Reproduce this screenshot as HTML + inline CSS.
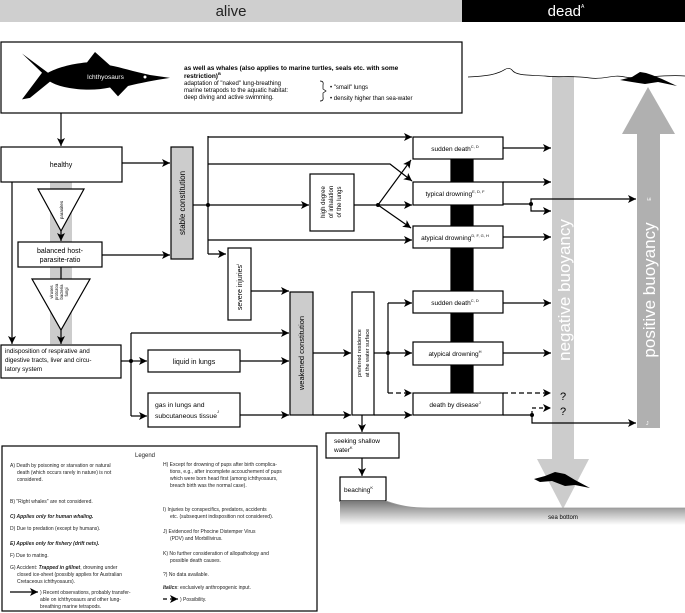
<!DOCTYPE html>
<html><head><meta charset="utf-8"><style>
html,body{margin:0;padding:0;background:#fff}
svg{display:block;font-family:"Liberation Sans",sans-serif}
</style></head><body>
<svg width="685" height="613" viewBox="0 0 685 613" xmlns="http://www.w3.org/2000/svg">
<defs>
<marker id="a" markerUnits="userSpaceOnUse" markerWidth="9" markerHeight="8" refX="8" refY="4" orient="auto"><path d="M0,0 L8,4 L0,8 L2,4 z" fill="#000"/></marker>
<linearGradient id="g" x1="0" y1="0" x2="0" y2="1"><stop offset="0" stop-color="#777"/><stop offset="1" stop-color="#fff"/></linearGradient>
</defs>
<!-- header -->
<rect x="0" y="0" width="462" height="22" fill="#cfcfcf"/>
<rect x="462" y="0" width="223" height="22" fill="#000"/>
<text x="231" y="16" font-size="15" text-anchor="middle" fill="#222">alive</text>
<text x="566" y="16" font-size="15" text-anchor="middle" fill="#fff">dead<tspan font-size="5" dy="-8">A</tspan></text>

<!-- buoyancy arrows -->
<rect x="552" y="76" width="22" height="384" fill="#ccc"/>
<polygon points="537,459 589,459 563,509" fill="#ccc"/>
<text transform="translate(570,290) rotate(-90)" font-size="17" fill="#fff" text-anchor="middle">negative buoyancy</text>
<rect x="637" y="133" width="23" height="295" fill="#b0b0b0"/>
<polygon points="622,134 675,134 648,87" fill="#b0b0b0"/>
<text transform="translate(655,290) rotate(-90)" font-size="17" fill="#fff" text-anchor="middle">positive buoyancy</text>
<text transform="translate(651,199) rotate(-90)" font-size="5" fill="#fff" text-anchor="middle">E</text>
<text x="646" y="425" font-size="5" fill="#fff">J</text>

<!-- water line -->
<path d="M468,77 C490,76 495,74 500,72 C505,70 508,66 512,70 C516,76 530,75 545,76 C560,78 570,75 590,78 C605,80 612,74 625,77 C640,80 660,74 685,76" fill="none" stroke="#000" stroke-width="0.7"/>
<path d="M620,80 L632,77 L640,72 L646,73 L652,75 L662,79 L677,86 L658,82 L645,84 L632,82 Z" fill="#000"/>

<!-- top box -->
<rect x="1" y="42" width="461" height="71" fill="#fff" stroke="#000" stroke-width="1.2"/>
<g transform="translate(0,1.7) scale(1,0.74)">
<path d="M22,70 L42,96 L22,132 L30,130 L50,108 C62,118 90,122 110,116 L118,128 L128,114 C140,110 155,106 170,103 L150,99 C135,95 122,89 110,86 L95,68 L87,82 C70,84 56,90 48,96 Z" fill="#000"/>
</g>
<text x="87" y="79" font-size="6.5" fill="#fff">Ichthyosaurs</text>
<circle cx="145" cy="77" r="1.5" fill="#fff"/>
<text x="184" y="70" font-size="6.5" font-weight="bold">as well as whales (also applies to marine turtles, seals etc. with some</text>
<text x="184" y="78" font-size="6.5" font-weight="bold">restriction)<tspan font-size="4" dy="-3">B</tspan></text>
<text x="184" y="85" font-size="6">adaptation of "naked" lung-breathing</text>
<text x="184" y="92" font-size="6">marine tetrapods to the aquatic habitat:</text>
<text x="184" y="99" font-size="6">deep diving and active swimming.</text>
<path d="M320,81 Q324,81 323,85 L323,89 L326,91 L323,93 L323,97 Q324,101 320,101" fill="none" stroke="#000" stroke-width="0.7"/>
<text x="330" y="89" font-size="6">•  "small" lungs</text>
<text x="330" y="100" font-size="6">•  density higher than sea-water</text>

<g stroke="#000" stroke-width="1.2" fill="none">
<line x1="61" y1="113" x2="61" y2="146" marker-end="url(#a)"/>
</g>
<!-- gray band -->
<rect x="50" y="182" width="22" height="162" fill="#ccc"/>

<g stroke="#000" stroke-width="1.2" fill="none">
<rect x="1" y="147" width="121" height="35" fill="#fff"/>
<polygon points="38,189 84,189 61,231" fill="#fff"/>
<line x1="61" y1="231" x2="61" y2="241" marker-end="url(#a)"/>
<rect x="18" y="242" width="84" height="25" fill="#fff"/>
<line x1="61" y1="267" x2="61" y2="330"/>
<polygon points="32,279 90,279 61,330" fill="#fff"/>
<line x1="61" y1="330" x2="61" y2="344" marker-end="url(#a)"/>
<line x1="12" y1="182" x2="12" y2="344" marker-end="url(#a)"/>
<rect x="1" y="345" width="120" height="33" fill="#fff"/>
<line x1="122" y1="163" x2="170" y2="163" marker-end="url(#a)"/>
<line x1="102" y1="255" x2="170" y2="255" marker-end="url(#a)"/>
<rect x="171" y="147" width="22" height="112" fill="#ccc"/>
<line x1="193" y1="205" x2="208" y2="205"/>
<line x1="208" y1="136" x2="208" y2="254"/>
<line x1="208" y1="137" x2="412" y2="137" marker-end="url(#a)"/>
<polyline points="208,164 390,164 412,181" marker-end="url(#a)"/>
<line x1="208" y1="205" x2="309" y2="205" marker-end="url(#a)"/>
<line x1="208" y1="240" x2="412" y2="240" marker-end="url(#a)"/>
<line x1="208" y1="254" x2="226" y2="254" marker-end="url(#a)"/>
<rect x="310" y="174" width="44" height="57" fill="#fff"/>
<line x1="354" y1="205" x2="412" y2="205" marker-end="url(#a)"/>
<line x1="378" y1="205" x2="411" y2="160" marker-end="url(#a)"/>
<line x1="378" y1="205" x2="411" y2="228" marker-end="url(#a)"/>
<rect x="228" y="248" width="23" height="72" fill="#fff"/>
<polyline points="251,291 289,291" marker-end="url(#a)"/>
<rect x="451" y="159" width="22" height="234" fill="#000"/>
<rect x="413" y="137" width="90" height="22" fill="#fff"/>
<rect x="413" y="182" width="90" height="23" fill="#fff"/>
<rect x="413" y="226" width="90" height="22" fill="#fff"/>
<line x1="503" y1="148" x2="551" y2="148" marker-end="url(#a)"/>
<line x1="503" y1="182" x2="551" y2="182" marker-end="url(#a)"/>
<line x1="503" y1="204" x2="531" y2="204"/>
<polyline points="531,204 531,199 636,199" marker-end="url(#a)"/>
<polyline points="531,204 531,211 551,211" marker-end="url(#a)"/>
<line x1="503" y1="237" x2="551" y2="237" marker-end="url(#a)"/>
<line x1="121" y1="361" x2="131" y2="361"/>
<line x1="131" y1="333" x2="131" y2="416"/>
<line x1="131" y1="333" x2="289" y2="333" marker-end="url(#a)"/>
<line x1="131" y1="361" x2="147" y2="361" marker-end="url(#a)"/>
<line x1="131" y1="416" x2="147" y2="416" marker-end="url(#a)"/>
<rect x="148" y="350" width="92" height="22" fill="#fff"/>
<rect x="148" y="393" width="92" height="34" fill="#fff"/>
<line x1="240" y1="361" x2="289" y2="361" marker-end="url(#a)"/>
<line x1="240" y1="415" x2="289" y2="415" marker-end="url(#a)"/>
<rect x="290" y="292" width="23" height="123" fill="#ccc"/>
<line x1="313" y1="353" x2="351" y2="353" marker-end="url(#a)"/>
<line x1="313" y1="415" x2="351" y2="415" marker-end="url(#a)"/>
<rect x="352" y="292" width="22" height="123" fill="#fff"/>
<line x1="374" y1="415" x2="412" y2="415" marker-end="url(#a)"/>
<line x1="374" y1="353" x2="388" y2="353"/>
<line x1="388" y1="303" x2="388" y2="393"/>
<line x1="388" y1="303" x2="412" y2="303" marker-end="url(#a)"/>
<line x1="388" y1="353" x2="412" y2="353" marker-end="url(#a)"/>
<line x1="388" y1="393" x2="412" y2="393" stroke-dasharray="5,3" marker-end="url(#a)"/>
<rect x="413" y="291" width="90" height="22" fill="#fff"/>
<rect x="413" y="342" width="90" height="23" fill="#fff"/>
<rect x="413" y="393" width="90" height="22" fill="#fff"/>
<line x1="503" y1="303" x2="551" y2="303" marker-end="url(#a)"/>
<line x1="503" y1="353" x2="551" y2="353" marker-end="url(#a)"/>
<line x1="503" y1="393" x2="551" y2="393" stroke-dasharray="5,3" marker-end="url(#a)"/>
<line x1="503" y1="415" x2="532" y2="415"/>
<polyline points="532,415 532,408 551,408" stroke-dasharray="4,3" marker-end="url(#a)"/>
<polyline points="532,415 532,423 636,423" marker-end="url(#a)"/>
<line x1="362" y1="415" x2="362" y2="432" marker-end="url(#a)"/>
<rect x="326" y="433" width="73" height="25" fill="#fff"/>
<line x1="362" y1="458" x2="362" y2="476" marker-end="url(#a)"/>
<rect x="340" y="477" width="46" height="24" fill="#fff"/>
</g>
<g fill="#000">
<circle cx="208" cy="205" r="2"/><circle cx="378" cy="205" r="2"/><circle cx="531" cy="204" r="2"/>
<circle cx="131" cy="361" r="2"/><circle cx="388" cy="353" r="2"/><circle cx="532" cy="415" r="2"/>
</g>
<path d="M340,501 L386,501 C400,506 410,508 430,508 L685,508 L685,525 L340,525 Z" fill="url(#g)"/>
<path d="M386,501 C400,506 410,508 430,508 L685,508" fill="none" stroke="#999" stroke-width="0.8"/>
<path d="M534,479 L545,476 L555,472 L565,474 L575,480 L590,488 L575,485 L565,486 L552,481 L540,482 Z" fill="#000"/>
<text x="563" y="519" font-size="6" text-anchor="middle">sea bottom</text>
<text x="563" y="400" font-size="11" text-anchor="middle">?</text>
<text x="563" y="415" font-size="11" text-anchor="middle">?</text>

<g font-size="7">
<text x="61" y="167" text-anchor="middle">healthy</text>
<text transform="translate(63,210) rotate(-90)" font-size="4.5" text-anchor="middle">parasites</text>
<text x="60" y="253" text-anchor="middle">balanced host-</text>
<text x="60" y="262" text-anchor="middle">parasite-ratio</text>
<g font-size="4.2" text-anchor="middle">
<text transform="translate(53,292) rotate(-90)">viruses</text>
<text transform="translate(58,292) rotate(-90)">protozoa</text>
<text transform="translate(63,292) rotate(-90)">bacteria</text>
<text transform="translate(68,292) rotate(-90)">fungi</text>
</g>
<text x="5" y="353" font-size="6.3">indisposition of respirative and</text>
<text x="5" y="362" font-size="6.3">digestive tracts, liver and circu-</text>
<text x="5" y="371" font-size="6.3">latory system</text>
<text transform="translate(185,203) rotate(-90)" font-size="8" text-anchor="middle">stable constitution</text>
<text transform="translate(325,202) rotate(-90)" font-size="6" text-anchor="middle">high degree</text>
<text transform="translate(333,202) rotate(-90)" font-size="6" text-anchor="middle">of inhalation</text>
<text transform="translate(341,202) rotate(-90)" font-size="6" text-anchor="middle">of the lungs</text>
<text transform="translate(242,287) rotate(-90)" font-size="7" text-anchor="middle">severe injuries<tspan font-size="4" dy="-3">I</tspan></text>
<text x="194" y="364" text-anchor="middle">liquid in lungs</text>
<text x="155" y="407" font-size="6.8">gas in lungs and</text>
<text x="155" y="418" font-size="6.8">subcutaneous tissue<tspan font-size="4" dy="-5">J</tspan></text>
<text transform="translate(304,353) rotate(-90)" font-size="7.5" text-anchor="middle">weakened constitution</text>
<text transform="translate(361,353) rotate(-90)" font-size="5.5" text-anchor="middle">preferred residence</text>
<text transform="translate(369,353) rotate(-90)" font-size="5.5" text-anchor="middle">at the water surface</text>
<g font-size="6.5" text-anchor="middle">
<text x="455" y="151">sudden death<tspan font-size="4" dy="-3">C, D</tspan></text>
<text x="455" y="196">typical drowning<tspan font-size="4" dy="-3">E, D, F</tspan></text>
<text x="455" y="240">atypical drowning<tspan font-size="4" dy="-3">D, F, G, H</tspan></text>
<text x="455" y="305">sudden death<tspan font-size="4" dy="-3">C, D</tspan></text>
<text x="455" y="356">atypical drowning<tspan font-size="4" dy="-3">H</tspan></text>
<text x="455" y="407">death by disease<tspan font-size="4" dy="-3">J</tspan></text>
</g>
<text x="334" y="443" font-size="6.5">seeking shallow</text>
<text x="334" y="452" font-size="6.5">water<tspan font-size="4" dy="-3">K</tspan></text>
<text x="344" y="492" font-size="6.5">beaching<tspan font-size="4" dy="-3">K</tspan></text>
</g>

<rect x="2" y="446" width="315" height="165" fill="#fff" stroke="#000" stroke-width="1.2"/>
<g font-size="5" fill="#222">
<text x="145" y="457" font-size="6" text-anchor="middle">Legend</text>
<text x="10" y="467">A) Death by poisoning or starvation or natural</text>
<text x="17" y="474">death (which occurs rarely in nature) is not</text>
<text x="17" y="481">considered.</text>
<text x="10" y="503">B) "Right whales" are not considered.</text>
<text x="10" y="518" font-style="italic" font-weight="bold">C) Applies only for human whaling.</text>
<text x="10" y="530">D) Due to predation (except by humans).</text>
<text x="10" y="545" font-style="italic" font-weight="bold">E) Applies only for fishery (drift nets).</text>
<text x="10" y="557">F) Due to mating.</text>
<text x="10" y="569">G) Accident: <tspan font-style="italic" font-weight="bold">Trapped in gillnet</tspan>, drowning under</text>
<text x="17" y="576">closed ice-sheet (possibly applies for Australian</text>
<text x="17" y="583">Cretaceous ichthyosaurs).</text>
<text x="40" y="594">) Recent observations, probably transfer-</text>
<text x="40" y="601">able on ichthyosaurs and other lung-</text>
<text x="40" y="608">breathing marine tetrapods.</text>
<text x="163" y="466">H) Except for drowning of pups after birth complica-</text>
<text x="170" y="473">tions, e.g., after incomplete accouchement of pups</text>
<text x="170" y="480">which were born head first (among ichthyosaurs,</text>
<text x="170" y="487">breach birth was the normal case).</text>
<text x="163" y="511">I) Injuries by conspecifics, predators, accidents</text>
<text x="170" y="518">etc. (subsequent indisposition not considered).</text>
<text x="163" y="533">J) Evidenced for Phocine Distemper Virus</text>
<text x="170" y="540">(PDV) and Morbillivirus.</text>
<text x="163" y="555">K) No further consideration of allopathology and</text>
<text x="170" y="562">possible death causes.</text>
<text x="163" y="576">?) No data available.</text>
<text x="163" y="589"><tspan font-style="italic" font-weight="bold">Italics</tspan>: exclusively anthropogenic input.</text>
<text x="180" y="601">) Possibility.</text>
</g>
<g stroke="#000" stroke-width="1.2">
<line x1="10" y1="592" x2="38" y2="592" marker-end="url(#a)"/>
<line x1="163" y1="599" x2="178" y2="599" stroke-dasharray="4,3" marker-end="url(#a)"/>
</g>
</svg>
</body></html>
